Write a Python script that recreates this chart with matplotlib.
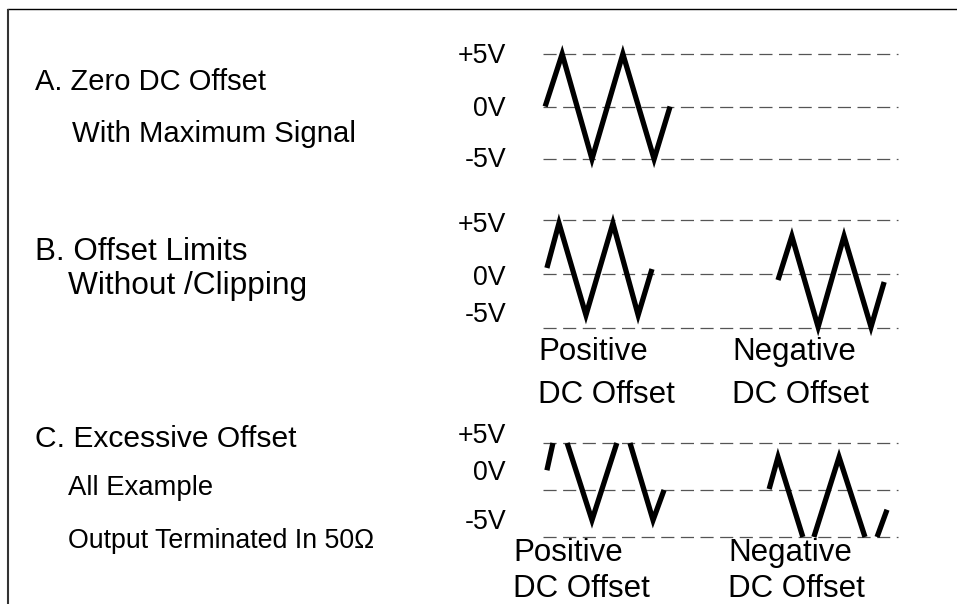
import matplotlib
matplotlib.use("Agg")
import matplotlib.pyplot as plt
import numpy as np

# ---------------- data ----------------
levels = [5, 0, -5]
level_labels = ["+5V", "0V", "-5V"]

# time in % of sweep, voltage in V
time_A = [0.6, 5.4, 13.8, 22.5, 31.3, 35.8]
volt_A = [0.0, 5.0, -5.0, 5.0, -5.0, 0.0]

time_B_pos = [1.1, 4.5, 12.1, 19.7, 26.8, 30.7]
volt_B_pos = [0.56, 4.7, -3.8, 4.7, -3.8, 0.46]
time_B_neg = [66.2, 70.1, 77.5, 84.8, 92.4, 96.1]
volt_B_neg = [-0.56, 3.5, -4.9, 3.5, -4.9, -0.74]

nan = np.nan
time_C_pos = [1.1, 2.8, nan, 6.8, 13.8, 20.8, nan, 24.5, 31.0, 34.1]
volt_C_pos = [2.1, 5.0, nan, 5.0, -3.2, 5.0, nan, 5.0, -3.2, 0.0]
time_C_neg = [63.7, 66.2, 73.2, nan, 76.3, 83.4, 90.7, nan, 94.1, 96.9]
volt_C_neg = [0.1, 3.5, -5.0, nan, -5.0, 3.5, -5.0, nan, -5.0, -2.1]

title_A = ["A. Zero DC Offset", "With Maximum Signal"]
title_B = ["B. Offset Limits", "Without /Clipping"]
title_C = ["C. Excessive Offset", "All Example", "Output Terminated In 50\u03a9"]
offset_labels = [["Positive", "DC Offset"], ["Negative", "DC Offset"]]

# ---------------- figure ----------------
W, H = 957, 604
plt.rcParams["font.family"] = ["Liberation Sans", "DejaVu Sans"]
fig = plt.figure(figsize=(W / 100, H / 100), dpi=100)
fig.patch.set_facecolor("white")

bg = fig.add_axes([0, 0, 1, 1])
bg.set_xlim(0, W)
bg.set_ylim(H, 0)
bg.axis("off")

# frame (top and left only)
bg.plot([7, W], [9, 9], color="black", lw=1.0, solid_capstyle="butt")
bg.plot([7.5, 7.5], [9, H], color="#333333", lw=1.5, solid_capstyle="butt")


def panel(y_hi, y_lo, x0=543, x1=898):
    ax = fig.add_axes([x0 / W, 1 - y_lo / H, (x1 - x0) / W, (y_lo - y_hi) / H])
    ax.set_xlim(0, 100)
    ax.set_ylim(-5, 5)
    ax.axis("off")
    for lv in levels:
        ax.axhline(lv, color="#555555", lw=0.9, dashes=(10.5, 5.2), clip_on=False)
    return ax


def wave(ax, t, v):
    ax.plot(t, v, color="black", lw=3.8, solid_joinstyle="miter",
            solid_capstyle="butt", clip_on=False)


def level_text(baselines, x=506, size=19.3):
    for lab, yb in zip(level_labels, baselines):
        bg.text(x, yb, lab, ha="right", va="baseline", fontsize=size, color="black")


axA = panel(54, 159)
wave(axA, time_A, volt_A)
level_text([63, 116, 167])

axB = panel(220, 328)
wave(axB, time_B_pos, volt_B_pos)
wave(axB, time_B_neg, volt_B_neg)
level_text([232, 285, 322])

axC = panel(443, 537)
wave(axC, time_C_pos, volt_C_pos)
wave(axC, time_C_neg, volt_C_neg)
level_text([443, 480, 529])

bg.text(35, 90, title_A[0], fontsize=21, va="baseline")
bg.text(72, 142, title_A[1], fontsize=21.2, va="baseline")
bg.text(35, 260, title_B[0], fontsize=22.6, va="baseline")
bg.text(68, 294, title_B[1], fontsize=22.8, va="baseline")
bg.text(35, 447, title_C[0], fontsize=21.6, va="baseline")
bg.text(68, 495, title_C[1], fontsize=19.8, va="baseline")
bg.text(68, 548, title_C[2], fontsize=19.3, va="baseline")

OS = 22.5
for (lines, x) in zip(offset_labels, [538, 732]):
    bg.text(x, 360, lines[0], fontsize=OS, va="baseline")
    bg.text(x, 403, lines[1], fontsize=OS, va="baseline")
for (lines, x) in zip(offset_labels, [513, 728]):
    bg.text(x, 561, lines[0], fontsize=OS, va="baseline")
    bg.text(x, 597, lines[1], fontsize=OS, va="baseline")

fig.savefig("out.png", dpi=100, facecolor="white")
